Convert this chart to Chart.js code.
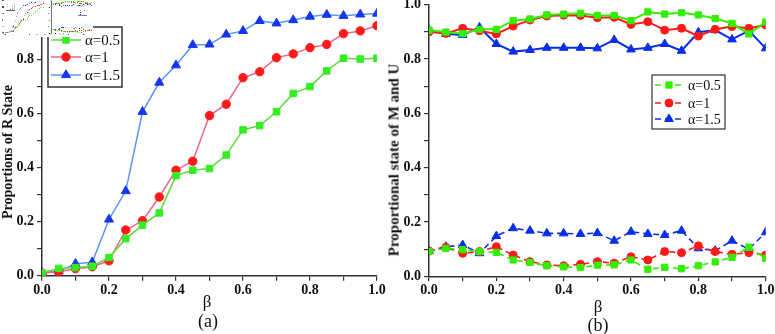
<!DOCTYPE html>
<html><head><meta charset="utf-8">
<script src="https://cdn.jsdelivr.net/npm/chart.js@4"></script>
<style>
html,body{margin:0;padding:0;background:#fff;overflow:hidden;width:775px;height:334px;position:relative}
canvas.c{position:absolute}
.t{position:absolute;font-family:"Liberation Serif","Times New Roman",serif;color:#111;white-space:nowrap;line-height:1}
.rot{transform:translate(-50%,-50%) rotate(-90deg)}
.ctr{transform:translate(-50%,-50%)}
</style></head><body>
<canvas class="c" id="ca" width="390" height="354" style="left:0;top:-20px"></canvas>
<canvas class="c" id="cb" width="400" height="354" style="left:390px;top:-20px"></canvas>
<canvas class="c" id="thumb" width="93" height="37" style="left:0;top:0"></canvas>
<div class="t rot" style="left:8px;top:152px;font-size:14px;font-weight:bold">Proportions of R State</div>
<div class="t rot" style="left:394px;top:160px;font-size:15px;font-weight:bold">Proportional state of M and U</div>
<div class="t ctr" style="left:207px;top:301px;font-size:17px">β</div>
<div class="t ctr" style="left:208px;top:321px;font-size:18px">(a)</div>
<div class="t ctr" style="left:598px;top:306px;font-size:17px">β</div>
<div class="t ctr" style="left:598px;top:325px;font-size:18px">(b)</div>
<script>
// ---- data ----
const beta = [0.00,0.05,0.10,0.15,0.20,0.25,0.30,0.35,0.40,0.45,0.50,0.55,0.60,0.65,0.70,0.75,0.80,0.85,0.90,0.95,1.00];
const seriesLabels = ["α=0.5","α=1","α=1.5"];
// (a) proportion of R state
const rA05 = [0.011,0.027,0.030,0.035,0.067,0.137,0.187,0.232,0.370,0.390,0.396,0.446,0.539,0.555,0.606,0.674,0.699,0.757,0.804,0.801,0.804];
const rA1  = [0.010,0.015,0.026,0.033,0.055,0.169,0.203,0.291,0.390,0.423,0.592,0.634,0.732,0.754,0.806,0.820,0.843,0.855,0.895,0.905,0.924];
const rA15 = [0.011,0.016,0.044,0.050,0.208,0.313,0.606,0.714,0.778,0.853,0.855,0.892,0.905,0.942,0.933,0.945,0.958,0.965,0.961,0.966,0.969];
// (b) upper curves (M)
const mA05 = [0.906,0.899,0.893,0.909,0.909,0.941,0.947,0.962,0.965,0.968,0.960,0.960,0.941,0.973,0.965,0.970,0.962,0.949,0.931,0.892,0.936];
const mA1  = [0.900,0.894,0.913,0.904,0.892,0.921,0.943,0.958,0.961,0.960,0.952,0.953,0.927,0.937,0.906,0.913,0.884,0.909,0.919,0.913,0.925];
const mA15 = [0.906,0.892,0.888,0.916,0.855,0.827,0.833,0.841,0.841,0.841,0.839,0.870,0.835,0.841,0.855,0.830,0.898,0.906,0.872,0.904,0.839];
// (b) lower curves (U)
const uA05 = [0.091,0.103,0.098,0.091,0.088,0.060,0.051,0.039,0.035,0.032,0.041,0.042,0.060,0.026,0.033,0.028,0.039,0.053,0.070,0.107,0.066];
const uA1  = [0.093,0.107,0.085,0.091,0.109,0.078,0.054,0.042,0.039,0.044,0.054,0.048,0.072,0.060,0.091,0.087,0.112,0.091,0.081,0.087,0.078];
const uA15 = [0.093,0.109,0.115,0.085,0.148,0.177,0.168,0.158,0.158,0.156,0.159,0.131,0.164,0.156,0.152,0.168,0.103,0.094,0.131,0.100,0.162];

const pts = arr => arr.map((v,i)=>({x:beta[i], y:v}));
const TICKFONT = {family:'"Liberation Serif","Times New Roman",serif', size:14, weight:'bold'};

function drawMarker(ctx, style, r, x, y){
  if (Chart.helpers && Chart.helpers.drawPoint){
    Chart.helpers.drawPoint(ctx, {pointStyle:style, radius:r, rotation:0, borderWidth:1}, x, y);
    return;
  }
  ctx.beginPath();
  if(style==='circle'){ctx.arc(x,y,r,0,Math.PI*2);}
  else if(style==='rect'){const s=r*Math.SQRT1_2;ctx.rect(x-s,y-s,2*s,2*s);}
  else {ctx.moveTo(x,y-r);ctx.lineTo(x+r*0.866,y+r/2);ctx.lineTo(x-r*0.866,y+r/2);ctx.closePath();}
  ctx.fill();ctx.stroke();
}

const boxLegend = {
  id:'boxLegend',
  afterDraw(chart, args, o){
    if(!o || !o.items) return;
    const ctx = chart.ctx;
    ctx.save();
    ctx.fillStyle='#fff';
    ctx.fillRect(o.x,o.y,o.w,o.h);
    ctx.lineWidth=o.borderWidth; ctx.strokeStyle=o.borderColor;
    ctx.strokeRect(o.x,o.y,o.w,o.h);
    o.items.forEach((idx,i)=>{
      const ds = chart.data.datasets[idx];
      const y = o.y + o.rows[i];
      ctx.save();
      ctx.strokeStyle = ds.borderColor; ctx.lineWidth = ds.borderWidth;
      ctx.setLineDash(ds.borderDash||[]);
      ctx.beginPath(); ctx.moveTo(o.x+o.l0,y); ctx.lineTo(o.x+o.l1,y); ctx.stroke();
      ctx.setLineDash([]);
      ctx.fillStyle = ds.pointBackgroundColor; ctx.strokeStyle = ds.pointBorderColor; ctx.lineWidth=1;
      drawMarker(ctx, ds.pointStyle, ds.pointRadius, o.x+(o.l0+o.l1)/2, y);
      ctx.restore();
      ctx.fillStyle='#111'; ctx.font=o.font; ctx.textBaseline='middle'; ctx.textAlign='left';
      ctx.fillText(ds.label, o.x+o.tx, y+1);
    });
    ctx.restore();
  }
};

function axes(yW){
  const common = {
    type:'linear', min:0, max:1,
    grid:{display:true, drawOnChartArea:false, drawTicks:true, tickLength:5, color:'#333', lineWidth:1.2},
    border:{display:true, color:'#333', width:1.5},
  };
  return {
    x:Object.assign({}, common, {
      position:'bottom',
      afterFit(s){ s.height = 20; },
      ticks:{stepSize:0.1, autoSkip:false, maxRotation:0, padding:1, color:'#111', font:TICKFONT,
        callback:v=>(Math.round(v*10)%2===0)?v.toFixed(1):''}
    }),
    y:Object.assign({}, common, {
      position:'left',
      afterFit(s){ s.width = yW; },
      ticks:{stepSize:0.1, autoSkip:false, padding:3, color:'#111', font:TICKFONT,
        callback:v=>(Math.round(v*10)%2===0)?v.toFixed(1):''}
    })
  };
}

function ds(label, data, line, fill, style, r, dash, lw){
  return {label, data:pts(data), borderColor:line, backgroundColor:fill, pointBackgroundColor:fill,
    pointBorderColor:fill, pointBorderWidth:1, pointStyle:style, pointRadius:r, borderWidth:lw,
    borderDash:dash||[], tension:0, fill:false};
}

// Panel (a)
const chartA = new Chart(document.getElementById('ca'), {
  type:'line',
  data:{datasets:[
    ds(seriesLabels[0], rA05, '#5fd93a', '#33ee22', 'rect', 4.6, null, 1.5),
    ds(seriesLabels[1], rA1,  '#ef6484', '#ff1a1a', 'circle', 4.2, null, 1.5),
    ds(seriesLabels[2], rA15, '#5b97f2', '#1535f0', 'triangle', 5.2, null, 1.5)
  ]},
  options:{
    responsive:false, animation:false, devicePixelRatio:1,
    layout:{padding:{left:0, top:25.2, right:13, bottom:38.3}},
    scales:axes(42),
    plugins:{legend:{display:false}, tooltip:{enabled:false},
      boxLegend:{x:48, y:47, w:74, h:60, borderWidth:1.5, borderColor:'#333',
        rows:[13,30,48], l0:3, l1:33, tx:37, items:[0,1,2], font:'15px "Liberation Serif", serif'}}
  },
  plugins:[boxLegend]
});

// Panel (b)
const chartB = new Chart(document.getElementById('cb'), {
  type:'line',
  data:{datasets:[
    ds(seriesLabels[0], mA05, '#33ee00', '#33ee00', 'rect', 4.4, null, 2),
    ds(seriesLabels[1], mA1,  '#ff1a1a', '#ff1a1a', 'circle', 4.0, null, 2),
    ds(seriesLabels[2], mA15, '#0a2ee8', '#0a2ee8', 'triangle', 5.0, null, 2),
    ds(seriesLabels[0], uA05, '#33ee00', '#33ee00', 'rect', 4.4, [6,4], 1.6),
    ds(seriesLabels[1], uA1,  '#ff1a1a', '#ff1a1a', 'circle', 4.0, [6,4], 1.6),
    ds(seriesLabels[2], uA15, '#0a2ee8', '#0a2ee8', 'triangle', 5.0, [6,4], 1.6)
  ]},
  options:{
    responsive:false, animation:false, devicePixelRatio:1,
    layout:{padding:{left:0, top:24.6, right:24.3, bottom:37.7}},
    scales:axes(39),
    plugins:{legend:{display:false}, tooltip:{enabled:false},
      boxLegend:{x:262, y:95, w:73, h:54, borderWidth:1.2, borderColor:'#333',
        rows:[10,28,44], l0:3, l1:31, tx:36, items:[3,4,5], font:'14px "Liberation Serif", serif'}}
  },
  plugins:[boxLegend]
});

// small overview thumbnail in the top-left corner
(function(){
  const t = document.getElementById('thumb').getContext('2d');
  t.fillStyle='#fff'; t.fillRect(0,0,93,37);
  const s = 0.12;
  t.drawImage(document.getElementById('ca'), 0, 20, 390, 334, 0, 0, 390*s, 334*s);
  t.drawImage(document.getElementById('cb'), 0, 20, 385, 334, 390*s, 0, 385*s, 334*s);
})();
</script>
</body></html>
